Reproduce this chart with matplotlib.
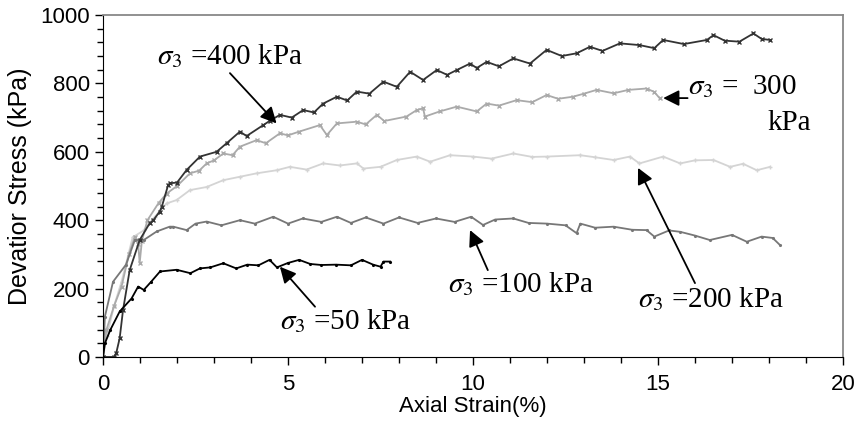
import matplotlib
matplotlib.use("Agg")
import matplotlib.pyplot as plt
from matplotlib.ticker import MultipleLocator

plt.rcParams['font.family'] = ['Liberation Sans', 'DejaVu Sans']
plt.rcParams['mathtext.fontset'] = 'stix'

# sigma3 = 400 kPa
x400 = [0, 0.3, 0.36, 0.45, 0.54, 0.72, 0.99, 1.26, 1.36, 1.53, 1.59, 1.76, 1.81, 2.0, 2.26, 2.62,
        3.07, 3.34, 3.70, 3.88, 4.33, 4.5, 4.78, 5.1, 5.41, 5.7, 5.95, 6.32, 6.6, 6.86, 7.2, 7.58,
        7.94, 8.30, 8.65, 9.02, 9.3, 9.56, 9.92, 10.1, 10.37, 10.7, 11.09, 11.54, 11.99, 12.4, 12.80,
        13.16, 13.5, 13.97, 14.5, 14.9, 15.14, 15.7, 16.32, 16.5, 16.8, 17.2, 17.58, 17.8, 18.03]
y400 = [0, 0, 13, 55, 137, 254, 342, 391, 400, 425, 440, 503, 508, 510, 547, 586,
        600, 625, 659, 646, 678, 690, 708, 700, 722, 715, 741, 761, 750, 776, 770, 805,
        790, 834, 810, 839, 825, 839, 858, 845, 863, 850, 873, 858, 898, 880, 888,
        907, 895, 917, 912, 903, 927, 915, 927, 941, 925, 922, 946, 930, 927]

# sigma3 = 300 kPa
x300 = [0, 0.09, 0.3, 0.5, 0.7, 0.86, 0.95, 0.99, 1.05, 1.2, 1.5, 1.72, 2.0, 2.35, 2.6, 2.80, 3.0,
        3.25, 3.5, 3.70, 4.15, 4.4, 4.78, 5.0, 5.3, 5.86, 6.05, 6.32, 6.86, 7.1, 7.4, 7.6, 8.2, 8.48,
        8.65, 8.7, 9.1, 9.56, 10.1, 10.37, 10.7, 11.18, 11.6, 11.99, 12.3, 12.7, 13.0, 13.34, 13.8,
        14.2, 14.69, 14.9, 15.05]
y300 = [0, 79, 150, 206, 300, 352, 330, 274, 340, 400, 450, 478, 500, 537, 545, 566, 575,
        595, 590, 615, 634, 625, 654, 648, 659, 678, 649, 683, 688, 680, 708, 690, 703, 722,
        727, 703, 718, 732, 718, 741, 735, 751, 745, 766, 755, 761, 770, 781, 771,
        781, 785, 775, 756]

# sigma3 = 200 kPa
x200 = [0, 0.1, 0.3, 0.5, 0.8, 1.1, 1.4, 1.72, 1.99, 2.35, 2.80, 3.25, 3.70, 4.15, 4.69, 5.05, 5.5,
        5.95, 6.4, 6.86, 7.04, 7.5, 7.94, 8.48, 8.84, 9.38, 10.0, 10.5, 11.09, 11.6, 12.0, 12.9, 13.3,
        13.8, 14.24, 14.5, 15.14, 15.6, 16.0, 16.5, 16.95, 17.3, 17.67, 18.03]
y200 = [0, 60, 150, 220, 350, 370, 410, 449, 459, 488, 497, 517, 527, 537, 546, 556, 548,
        566, 560, 566, 551, 556, 576, 586, 571, 590, 586, 580, 595, 585, 586, 590, 584,
        576, 586, 566, 586, 566, 575, 576, 556, 565, 546, 556]

# sigma3 = 100 kPa
x100 = [0, 0.05, 0.27, 0.62, 0.86, 1.1, 1.45, 1.8, 1.9, 2.26, 2.5, 2.8, 3.2, 3.7, 4.1, 4.6, 5.0,
        5.4, 5.9, 6.32, 6.7, 7.1, 7.58, 8.0, 8.5, 9.0, 9.5, 9.95, 10.27, 10.6, 11.09, 11.5, 12.0,
        12.5, 12.8, 12.9, 13.3, 13.8, 14.3, 14.69, 14.9, 15.3, 15.6, 16.0, 16.4, 17.0, 17.4, 17.8,
        18.1, 18.3]
y100 = [0, 118, 220, 270, 342, 342, 367, 381, 381, 371, 390, 396, 385, 400, 390, 410, 390,
        405, 395, 410, 392, 408, 390, 408, 392, 405, 395, 410, 386, 402, 405, 392, 390,
        385, 362, 390, 378, 381, 372, 371, 352, 370, 366, 355, 342, 357, 337, 352,
        348, 327]

# sigma3 = 50 kPa
x50 = [0, 0.05, 0.2, 0.45, 0.77, 0.95, 1.1, 1.3, 1.54, 1.99, 2.36, 2.62, 2.9, 3.25, 3.6, 3.9,
       4.2, 4.5, 4.7, 5.0, 5.3, 5.6, 5.9, 6.3, 6.7, 7.0, 7.3, 7.5, 7.58, 7.76]
y50 = [0, 40, 80, 133, 171, 206, 196, 220, 250, 255, 245, 259, 262, 274, 259, 270,
       268, 284, 262, 275, 284, 272, 269, 270, 268, 284, 270, 264, 279, 279]

fig = plt.figure(figsize=(8.63, 4.37), dpi=100)
ax = fig.add_axes([0.1194, 0.1831, 0.8574, 0.7826])

ax.plot(x200, y200, color='#d4d4d4', lw=1.3, marker='+', ms=2.5)
ax.plot(x300, y300, color='#aaaaaa', lw=1.3, marker='x', ms=2.5)
ax.plot(x100, y100, color='#777777', lw=1.3, marker='.', ms=2.5)
ax.plot(x400, y400, color='#333333', lw=1.3, marker='x', ms=2.5)
ax.plot(x50, y50, color='#000000', lw=1.3, marker='.', ms=2.5)

ax.set_xlim(0, 20)
ax.set_ylim(0, 1000)
ax.xaxis.set_major_locator(MultipleLocator(5))
ax.xaxis.set_minor_locator(MultipleLocator(1))
ax.yaxis.set_major_locator(MultipleLocator(200))
ax.yaxis.set_minor_locator(MultipleLocator(40))
ax.tick_params(which='both', direction='out', labelsize=16)
ax.tick_params(which='major', length=6, width=1)
ax.tick_params(which='minor', length=4, width=1)
ax.tick_params(axis='x', pad=6)

for s in ['top', 'right']:
    ax.spines[s].set_color('#888888')
    ax.spines[s].set_linewidth(1.3)

ax.set_xlabel('Axial Strain(%)', fontsize=16, labelpad=1)
ax.set_ylabel('Devatior Stress (kPa)', fontsize=18, labelpad=6)

serif = ['Liberation Serif', 'DejaVu Serif']
fs = 21
arrow = dict(arrowstyle='-|>', color='black', lw=1.3, mutation_scale=24, shrinkA=0, shrinkB=0)

ax.text(1.45, 880, r'$\sigma_3$ =400 kPa', fontsize=fs, family=serif, va='center')
ax.annotate('', xy=(4.69, 683), xytext=(3.43, 830), arrowprops=arrow)

ax.text(15.8, 790, r'$\sigma_3$ =  300', fontsize=fs, family=serif, va='center')
ax.text(17.97, 684, 'kPa', fontsize=fs, family=serif, va='center')
ax.annotate('', xy=(15.14, 757), xytext=(15.8, 757), arrowprops=arrow)

ax.text(14.46, 170, r'$\sigma_3$ =200 kPa', fontsize=fs, family=serif, va='center')
ax.annotate('', xy=(14.46, 553), xytext=(16.0, 216), arrowprops=arrow)

ax.text(9.32, 212, r'$\sigma_3$ =100 kPa', fontsize=fs, family=serif, va='center')
ax.annotate('', xy=(9.92, 371), xytext=(10.4, 254), arrowprops=arrow)

ax.text(4.78, 104, r'$\sigma_3$ =50 kPa', fontsize=fs, family=serif, va='center')
ax.annotate('', xy=(4.78, 264), xytext=(5.73, 147), arrowprops=arrow)

fig.savefig('out.png', dpi=100)
